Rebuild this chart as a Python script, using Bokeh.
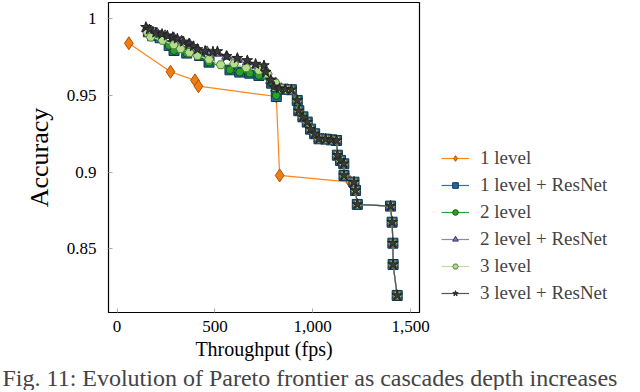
from bokeh.plotting import figure
from bokeh.models import (Legend, LegendItem, FixedTicker, NumeralTickFormatter,
                          CustomJSTickFormatter, Title, Range1d)
from bokeh.embed import file_html
from bokeh.resources import INLINE

# ---- data (throughput fps, accuracy) ----
one_x = [60, 273, 398, 416, 814, 831, 1193]
one_y = [0.984, 0.9654, 0.9598, 0.956, 0.9493, 0.8978, 0.8934]

tail_x = [891, 921, 929, 950, 972, 989, 1010, 1032, 1066, 1095, 1122, 1126, 1142, 1159, 1160,
          1211, 1219, 1228, 1398, 1406, 1410, 1411, 1432]
tail_y = [0.9537, 0.9467, 0.940, 0.936, 0.9326, 0.928, 0.925, 0.9217, 0.9215, 0.921, 0.9206, 0.911,
          0.9076, 0.9054, 0.8978, 0.8934, 0.888, 0.8789, 0.8778, 0.8673, 0.8536, 0.8397, 0.8195]

one_res_x = [160, 181, 220, 266, 291, 356, 422, 470, 577, 627, 678, 725, 790, 814, 850] + tail_x
one_res_y = [0.9915, 0.989, 0.9876, 0.9826, 0.9793, 0.9776, 0.976, 0.9717, 0.9667, 0.9652, 0.9645,
             0.963, 0.958, 0.9493, 0.954] + tail_y

two_x = [160, 181, 220, 266, 291, 356, 422, 470, 577, 627, 678, 725, 790, 814, 850] + tail_x
two_y = [0.9915, 0.989, 0.9876, 0.9826, 0.9793, 0.9776, 0.976, 0.9717, 0.9667, 0.9652, 0.9645,
         0.963, 0.958, 0.9500, 0.954] + tail_y

two_res_x = [150, 175, 205, 245, 290, 330, 370, 411, 460, 513, 560, 615, 666, 710, 751, 785, 811,
             840, 870] + tail_x
two_res_y = [0.9935, 0.992, 0.9905, 0.989, 0.9875, 0.9855, 0.9835, 0.980, 0.9785, 0.9775, 0.9755,
             0.9735, 0.9718, 0.969, 0.9685, 0.9598, 0.958, 0.9545, 0.9538] + tail_y

three_x = [155, 172, 232, 290, 325, 370, 411, 470, 530, 598, 660, 725, 770, 811, 840, 870] + tail_x
three_y = [0.991, 0.988, 0.9859, 0.983, 0.9804, 0.978, 0.976, 0.9735, 0.970, 0.9707, 0.968, 0.9663,
           0.964, 0.958, 0.9545, 0.9538] + tail_y

three_res_x = [147, 165, 198, 230, 257, 285, 308, 340, 368, 390, 411, 450, 490, 513, 560, 615, 666,
               708, 751, 760, 785, 802, 830, 860] + tail_x
three_res_y = [0.9945, 0.993, 0.991, 0.990, 0.989, 0.988, 0.987, 0.985, 0.9837, 0.982, 0.980,
               0.979, 0.9785, 0.9787, 0.9755, 0.9743, 0.9728, 0.9705, 0.9695, 0.9652, 0.960,
               0.9556, 0.9545, 0.954] + tail_y

labels = ["1 level", "1 level + ResNet", "2 level", "2 level + ResNet", "3 level", "3 level + ResNet"]
x_ticks = [0, 500, 1000, 1500]
y_ticks = [0.85, 0.9, 0.95, 1]

FONT = "Liberation Serif"

p = figure(frame_width=311, frame_height=310, output_backend="svg", toolbar_location=None,
           x_range=Range1d(-44, 1546), y_range=Range1d(0.8084, 1.0106),
           min_border_left=108, min_border_right=0, min_border_top=2, min_border_bottom=0)
p.margin = (0, 0, 0, 0)
p.xgrid.visible = False
p.ygrid.visible = False
p.outline_line_color = "black"
p.outline_line_width = 1.2
p.background_fill_color = "white"
p.border_fill_color = "white"

for ax in (p.xaxis[0], p.yaxis[0]):
    ax.axis_line_color = None
    ax.major_tick_in = 4
    ax.major_tick_out = 0
    ax.major_tick_line_color = "#aaaaaa"
    ax.minor_tick_line_color = None
    ax.major_label_text_font = FONT
    ax.major_label_text_font_size = "17px"
    ax.major_label_text_color = "black"
    ax.axis_label_text_font = FONT
    ax.axis_label_text_font_style = "normal"
    ax.axis_label_text_color = "black"

p.xaxis.ticker = FixedTicker(ticks=x_ticks)
p.xaxis.formatter = NumeralTickFormatter(format="0,0")
p.xaxis.axis_label = "Throughput (fps)"
p.xaxis.axis_label_text_font_size = "20px"
p.xaxis.major_label_standoff = 8
p.xaxis.axis_label_standoff = 3
p.yaxis.ticker = FixedTicker(ticks=y_ticks)
p.yaxis.formatter = CustomJSTickFormatter(code="return String(tick);")
p.yaxis.axis_label = "Accuracy"
p.yaxis.axis_label_text_font_size = "26px"
p.yaxis.major_label_standoff = 12
p.yaxis.axis_label_standoff = 10

items = []
# 1 level
l = p.line(one_x, one_y, line_color="#ff8419", line_width=1.2)
s = p.scatter(one_x, one_y, marker="diamond", size=13, fill_color="#f07d10", line_color="#b34d00", line_width=1)
items.append(LegendItem(label=labels[0], renderers=[l, s]))
# 1 level + ResNet
l = p.line(one_res_x, one_res_y, line_color="#1f77b4", line_width=1.2)
s = p.scatter(one_res_x, one_res_y, marker="square", size=10, fill_color="#1f6aa5", line_color="#0b3550", line_width=1)
items.append(LegendItem(label=labels[1], renderers=[l, s]))
# 2 level
l = p.line(two_x, two_y, line_color="#2ca02c", line_width=1.2)
s = p.scatter(two_x, two_y, marker="circle", size=8, fill_color="#2ca02c", line_color="#145214", line_width=1)
items.append(LegendItem(label=labels[2], renderers=[l, s]))
# 2 level + ResNet
l = p.line(two_res_x, two_res_y, line_color="#8a85c4", line_width=1.2)
s = p.scatter(two_res_x, two_res_y, marker="triangle", size=10, fill_color="#7e78b8", line_color="#3b3560", line_width=1)
items.append(LegendItem(label=labels[3], renderers=[l, s]))
# 3 level
l = p.line(three_x, three_y, line_color="#b8e0a0", line_width=1.2)
s = p.scatter(three_x, three_y, marker="hex", size=9, fill_color="#b2df8a", line_color="#5a7a40", line_width=1)
items.append(LegendItem(label=labels[4], renderers=[l, s]))
# 3 level + ResNet
l = p.line(three_res_x, three_res_y, line_color="#555555", line_width=1.2)
s = p.scatter(three_res_x, three_res_y, marker="star", size=11, fill_color="#3a3a3a", line_color="#222222", line_width=1)
items.append(LegendItem(label=labels[5], renderers=[l, s]))

legend = Legend(items=items, location=(22, 8), border_line_color=None, background_fill_alpha=0,
                label_text_font=FONT, label_text_font_size="19px", glyph_width=28, glyph_height=14,
                spacing=5, padding=4, margin=0, label_standoff=11, label_height=20)
p.add_layout(legend, "right")

cap = Title(text="Fig. 11: Evolution of Pareto frontier as cascades depth increases", align="left",
            text_font=FONT, text_font_size="24px", text_font_style="normal", offset=-106,
            standoff=0)
p.add_layout(cap, "below")

open("out.html", "w").write(file_html(p, INLINE))
